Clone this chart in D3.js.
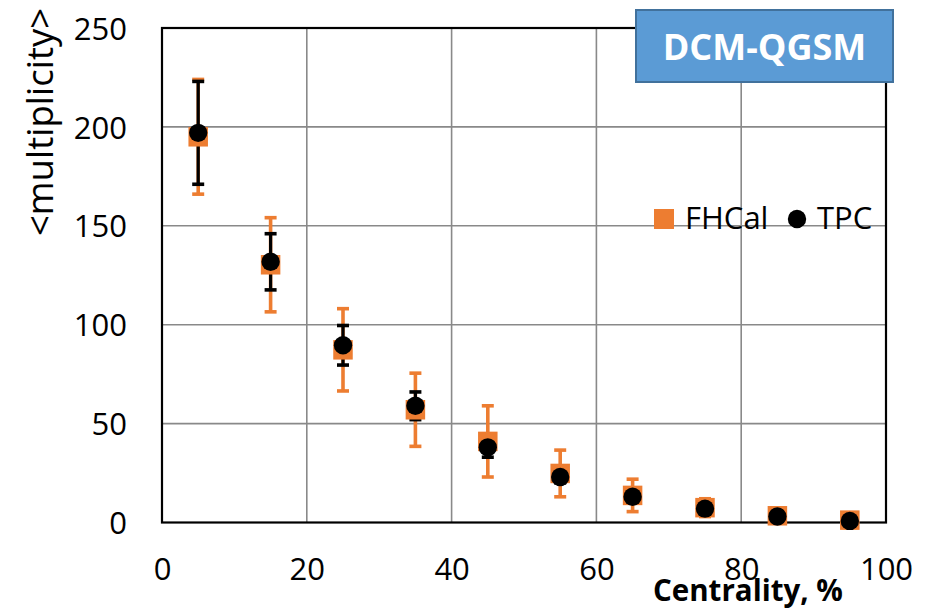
<!DOCTYPE html>
<html>
<head>
<meta charset="utf-8">
<script src="https://cdn.jsdelivr.net/npm/d3@7"></script>
<style>
  html, body { margin: 0; padding: 0; background: #fff; }
  svg { display: block; font-family: "Open Sans", "DejaVu Sans", sans-serif; }
</style>
</head>
<body>
<svg id="chart" width="940" height="611"></svg>
<script>
// Mean multiplicity vs. centrality class (DCM-QGSM), two estimators
const centrality = [5, 15, 25, 35, 45, 55, 65, 75, 85, 95];
const fhcalMean  = [195, 130.3, 87.3, 57, 41, 24.8, 13.7, 7.5, 3.4, 1.2];
const fhcalErr   = [29, 23.8, 20.8, 18.5, 18, 11.8, 8.2, 4.5, 2, 1];
const tpcMean    = [197, 131.8, 89.6, 59, 38, 23, 13, 7, 3, 0.8];
const tpcErr     = [26, 14.2, 10, 7, 5, 3, 2, 1, 0.5, 0.3];
const xTicks = [0, 20, 40, 60, 80, 100];
const yTicks = [0, 50, 100, 150, 200, 250];
const seriesNames = ["FHCal", "TPC"];
const xTitle = "Centrality, %";
const yTitle = "<multiplicity>";
const modelLabel = "DCM-QGSM";

const ORANGE = "#ED7D31";
const BLACK = "#000000";

const svg = d3.select("#chart");
const plot = { left: 162, right: 886, top: 28, bottom: 522.5 };

const x = d3.scaleLinear().domain([0, 100]).range([plot.left, plot.right]);
const y = d3.scaleLinear().domain([0, 250]).range([plot.bottom, plot.top]);

// grid lines
const grid = svg.append("g");
grid.selectAll("line.v").data(xTicks.slice(1, -1)).join("line")
  .attr("x1", d => x(d)).attr("x2", d => x(d))
  .attr("y1", plot.top).attr("y2", plot.bottom)
  .attr("stroke", "#898989").attr("stroke-width", 1.6);
grid.selectAll("line.h").data(yTicks.slice(1, -1)).join("line")
  .attr("x1", plot.left).attr("x2", plot.right)
  .attr("y1", d => y(d)).attr("y2", d => y(d))
  .attr("stroke", "#898989").attr("stroke-width", 1.6);

// plot frame
svg.append("rect")
  .attr("x", plot.left).attr("y", plot.top)
  .attr("width", plot.right - plot.left).attr("height", plot.bottom - plot.top)
  .attr("fill", "none").attr("stroke", BLACK).attr("stroke-width", 2.2);

// axes (labels only)
const xAxis = d3.axisBottom(x).tickValues(xTicks).tickSize(0).tickPadding(0).tickFormat(d3.format("d"));
const gx = svg.append("g").attr("transform", `translate(0,${plot.bottom})`).call(xAxis);
gx.select(".domain").remove();
gx.selectAll("text").attr("dy", null).attr("y", 57)
  .attr("font-size", 31).attr("fill", "#000").attr("font-family", "Open Sans");

const yAxis = d3.axisLeft(y).tickValues(yTicks).tickSize(0).tickPadding(0).tickFormat(d3.format("d"));
const gy = svg.append("g").attr("transform", `translate(${plot.left},0)`).call(yAxis);
gy.select(".domain").remove();
gy.selectAll("text").attr("x", -35).attr("dy", "0.36em")
  .attr("font-size", 31).attr("fill", "#000").attr("font-family", "Open Sans");

// axis titles
svg.append("text")
  .attr("x", 653).attr("y", 601)
  .attr("font-size", 29.5).attr("font-weight", "bold").attr("fill", "#000")
  .text(xTitle);

svg.append("text")
  .attr("transform", "translate(53,122) rotate(-90)")
  .attr("text-anchor", "middle")
  .attr("font-size", 36.5).attr("fill", "#000")
  .text(yTitle);

// data
const rows = centrality.map((c, i) => ({
  c, f: fhcalMean[i], fe: fhcalErr[i], t: tpcMean[i], te: tpcErr[i]
}));

function errorBars(g, mean, err, color, width) {
  const cap = 12;
  const sel = g.selectAll("g").data(rows).join("g");
  sel.append("line")
    .attr("x1", d => x(d.c)).attr("x2", d => x(d.c))
    .attr("y1", d => y(mean(d) + err(d))).attr("y2", d => y(mean(d) - err(d)))
    .attr("stroke", color).attr("stroke-width", width);
  sel.append("line")
    .attr("x1", d => x(d.c) - cap / 2).attr("x2", d => x(d.c) + cap / 2)
    .attr("y1", d => y(mean(d) + err(d))).attr("y2", d => y(mean(d) + err(d)))
    .attr("stroke", color).attr("stroke-width", 3.6);
  sel.append("line")
    .attr("x1", d => x(d.c) - cap / 2).attr("x2", d => x(d.c) + cap / 2)
    .attr("y1", d => y(mean(d) - err(d))).attr("y2", d => y(mean(d) - err(d)))
    .attr("stroke", color).attr("stroke-width", 3.6);
}

errorBars(svg.append("g"), d => d.f, d => d.fe, ORANGE, 3.6);
errorBars(svg.append("g"), d => d.t, d => d.te, BLACK, 3.2);

const sq = 19.5;
svg.append("g").selectAll("rect").data(rows).join("rect")
  .attr("x", d => x(d.c) - sq / 2).attr("y", d => y(d.f) - sq / 2)
  .attr("width", sq).attr("height", sq).attr("fill", ORANGE);

svg.append("g").selectAll("circle").data(rows).join("circle")
  .attr("cx", d => x(d.c)).attr("cy", d => y(d.t)).attr("r", 9.2)
  .attr("fill", BLACK);

// legend
const lg = svg.append("g");
lg.append("rect").attr("x", 654).attr("y", 209).attr("width", 20).attr("height", 20).attr("fill", ORANGE);
lg.append("text").attr("x", 685).attr("y", 229).attr("font-size", 31).attr("fill", "#000").text(seriesNames[0]);
lg.append("circle").attr("cx", 797).attr("cy", 219).attr("r", 9.2).attr("fill", BLACK);
lg.append("text").attr("x", 817).attr("y", 229).attr("font-size", 31).attr("fill", "#000").text(seriesNames[1]);

// model label box
const box = svg.append("g");
box.append("rect")
  .attr("x", 636).attr("y", 10).attr("width", 257).attr("height", 72)
  .attr("fill", "#5B9BD5").attr("stroke", "#41719C").attr("stroke-width", 2);
box.append("text")
  .attr("x", 764.5).attr("y", 60).attr("text-anchor", "middle")
  .attr("font-size", 36).attr("font-weight", "bold").attr("fill", "#fff")
  .text(modelLabel);
</script>
</body>
</html>
